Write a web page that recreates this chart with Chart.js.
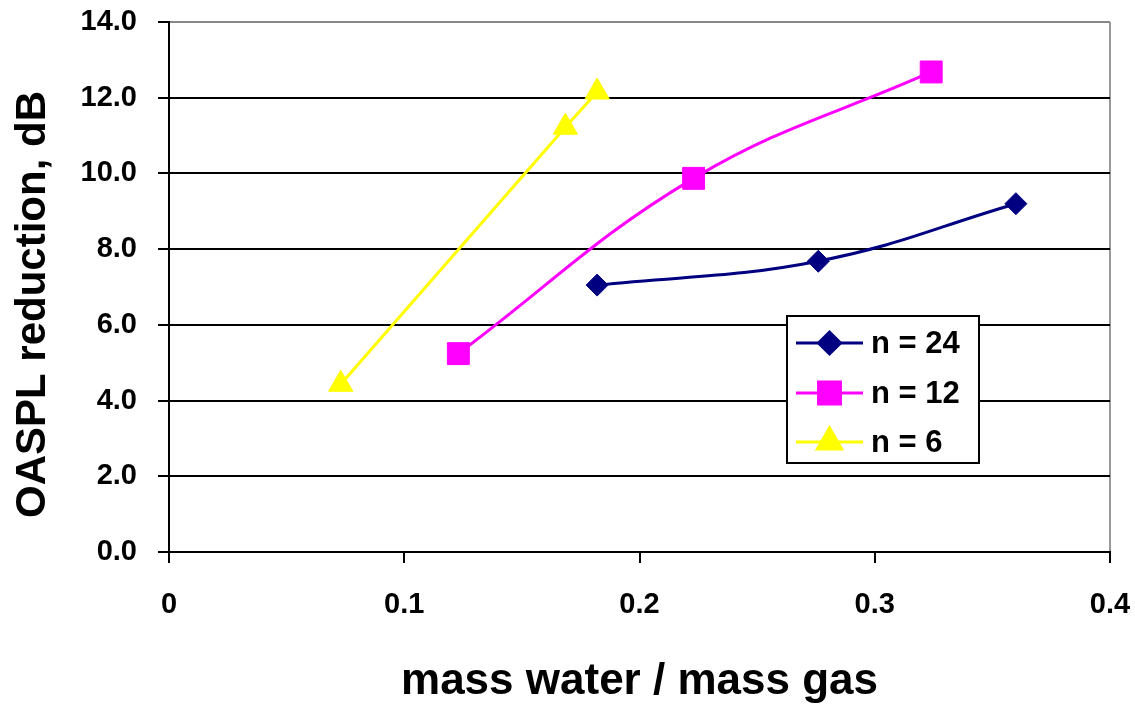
<!DOCTYPE html>
<html>
<head>
<meta charset="utf-8">
<title>OASPL reduction vs water/gas mass ratio</title>
<script src="https://cdn.jsdelivr.net/npm/chart.js@4/dist/chart.umd.min.js"></script>
<style>
  html, body { margin: 0; padding: 0; background: #fff; }
  #chart { display: block; }
</style>
</head>
<body>
<canvas id="chart" width="1135" height="704"></canvas>
<script>
// mass water / mass gas  vs  OASPL reduction (dB), one series per nozzle count
const ratio24 = [0.182, 0.276, 0.360];
const reduction24 = [7.05, 7.68, 9.2];

const ratio12 = [0.123, 0.223, 0.324];
const reduction12 = [5.24, 9.87, 12.68];

const ratio6 = [0.073, 0.1685, 0.182];
const reduction6 = [4.43, 11.22, 12.15];

const seriesLabels = ["n = 24", "n = 12", "n = 6"];

const xTicks = [0, 0.1, 0.2, 0.3, 0.4];
const yTicks = [0, 2, 4, 6, 8, 10, 12, 14];

const FONT = "'Liberation Sans', Arial, sans-serif";

function toPoints(xs, ys) {
  return xs.map((x, i) => ({ x: x, y: ys[i] }));
}

const series = [
  { label: seriesLabels[0], data: toPoints(ratio24, reduction24), color: "#000080", style: "rectRot", radius: 11 },
  { label: seriesLabels[1], data: toPoints(ratio12, reduction12), color: "#ff00ff", style: "rect", radius: 15.5 },
  { label: seriesLabels[2], data: toPoints(ratio6, reduction6), color: "#ffff00", style: "triangle", radius: 14 }
];

// boxed legend sitting inside the plot, over the grid lines
const boxLegend = {
  id: "boxLegend",
  afterDatasetsDraw(chart) {
    const ctx = chart.ctx;
    const left = 787, top = 316, right = 979, bottom = 463;
    ctx.save();
    ctx.fillStyle = "#fff";
    ctx.fillRect(left, top, right - left, bottom - top);
    ctx.strokeStyle = "#000";
    ctx.lineWidth = 2;
    ctx.strokeRect(left, top, right - left, bottom - top);

    const rows = [343, 393, 442];
    chart.data.datasets.forEach((ds, i) => {
      const y = rows[i];
      ctx.strokeStyle = ds.borderColor;
      ctx.lineWidth = 3;
      ctx.beginPath();
      ctx.moveTo(796, y);
      ctx.lineTo(863, y);
      ctx.stroke();
      ctx.fillStyle = ds.pointBackgroundColor;
      ctx.strokeStyle = ds.pointBorderColor;
      Chart.helpers.drawPoint(ctx, {
        pointStyle: ds.pointStyle,
        radius: ds.pointRadius,
        rotation: 0,
        borderWidth: 1
      }, 829.5, y);
      ctx.fillStyle = "#000";
      ctx.font = "bold 31px " + FONT;
      ctx.textAlign = "left";
      ctx.textBaseline = "middle";
      ctx.fillText(ds.label, 871, y + 1);
    });
    ctx.restore();
  }
};

new Chart(document.getElementById("chart"), {
  type: "line",
  data: {
    datasets: series.map(s => ({
      label: s.label,
      data: s.data,
      borderColor: s.color,
      backgroundColor: s.color,
      borderWidth: 3,
      tension: 0.4,
      fill: false,
      pointStyle: s.style,
      pointRadius: s.radius,
      pointBackgroundColor: s.color,
      pointBorderColor: s.color,
      pointBorderWidth: 1
    }))
  },
  options: {
    responsive: false,
    animation: false,
    clip: false,
    layout: { padding: { top: 22, right: 25, left: 0, bottom: 0 } },
    plugins: {
      legend: { display: false },
      tooltip: { enabled: false }
    },
    scales: {
      x: {
        type: "linear",
        min: 0,
        max: 0.4,
        afterFit(scale) {
          scale.height = 152;
          scale.paddingLeft = 0;
          scale.paddingRight = 0;
        },
        afterBuildTicks(scale) { scale.ticks = xTicks.map(v => ({ value: v })); },
        ticks: {
          padding: 25,
          color: "#000",
          font: { family: FONT, size: 29, weight: "bold" },
          callback: v => String(v)
        },
        grid: {
          color: ctx => ctx.index === xTicks.length - 1 ? "#999" : "rgba(0,0,0,0)",
          lineWidth: 2,
          tickColor: "#000",
          tickLength: 11
        },
        border: { color: "#000", width: 2 },
        title: {
          display: true,
          text: "mass water / mass gas",
          color: "#000",
          font: { family: FONT, size: 44, weight: "bold", lineHeight: 1 },
          padding: { top: 0, bottom: 0 }
        }
      },
      y: {
        min: 0,
        max: 14,
        afterFit(scale) {
          scale.width = 169;
          scale.paddingTop = 0;
          scale.paddingBottom = 0;
        },
        afterBuildTicks(scale) { scale.ticks = yTicks.map(v => ({ value: v })); },
        ticks: {
          padding: 21,
          color: "#000",
          font: { family: FONT, size: 29, weight: "bold" },
          callback: v => v.toFixed(1)
        },
        grid: {
          color: ctx => ctx.tick && ctx.tick.value === 14 ? "#888" : "#000",
          lineWidth: 2,
          tickColor: "#000",
          tickLength: 11
        },
        border: { color: "#000", width: 2 },
        title: {
          display: true,
          text: "OASPL reduction, dB   ",
          color: "#000",
          font: { family: FONT, size: 42, weight: "bold", lineHeight: 1.2 },
          padding: { top: 8, bottom: 0 }
        }
      }
    }
  },
  plugins: [boxLegend]
});
</script>
</body>
</html>
